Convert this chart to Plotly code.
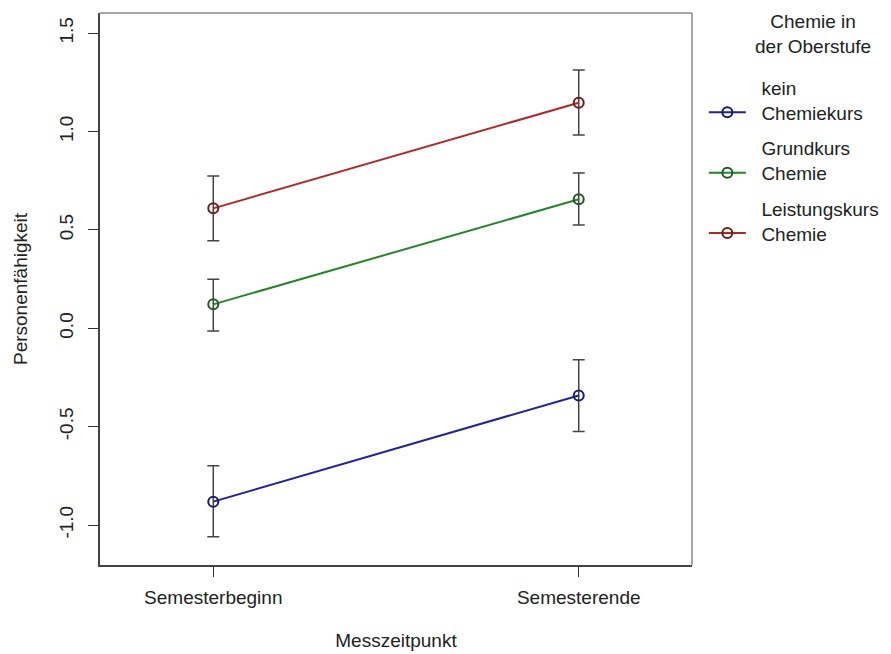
import plotly.graph_objects as go

time_labels = ["Semesterbeginn", "Semesterende"]
x_pos = [1, 2]

groups = ["kein<br>Chemiekurs", "Grundkurs<br>Chemie", "Leistungskurs<br>Chemie"]
means = {
    "kein<br>Chemiekurs": [-0.881, -0.341],
    "Grundkurs<br>Chemie": [0.122, 0.656],
    "Leistungskurs<br>Chemie": [0.610, 1.147],
}
upper = {
    "kein<br>Chemiekurs": [-0.699, -0.160],
    "Grundkurs<br>Chemie": [0.249, 0.790],
    "Leistungskurs<br>Chemie": [0.774, 1.313],
}
lower = {
    "kein<br>Chemiekurs": [-1.059, -0.524],
    "Grundkurs<br>Chemie": [-0.014, 0.525],
    "Leistungskurs<br>Chemie": [0.445, 0.983],
}
line_colors = ["#22229a", "#23862a", "#b02828"]
marker_colors = ["#1a1a66", "#1e5a22", "#6e1c1c"]

y_ticks = [-1.0, -0.5, 0.0, 0.5, 1.0, 1.5]
y_ticktext = ["-1.0", "-0.5", "0.0", "0.5", "1.0", "1.5"]

legend_title = "Chemie in<br>der Oberstufe"

FONT = "Liberation Sans, Arial, sans-serif"
FS = 19
NB = "\u00a0\u00a0"
fig = go.Figure()

for i, g in enumerate(groups):
    m = means[g]
    ep = [u - v for u, v in zip(upper[g], m)]
    em = [v - l for v, l in zip(m, lower[g])]
    label = "<br>".join(NB + part for part in g.split("<br>"))
    fig.add_trace(go.Scatter(
        x=x_pos, y=m, mode="lines+markers", name=label,
        line=dict(color=line_colors[i], width=2),
        marker=dict(symbol="circle-open", size=10, color=marker_colors[i],
                    line=dict(width=2, color=marker_colors[i])),
        error_y=dict(type="data", symmetric=False, array=ep, arrayminus=em,
                     color="#444444", thickness=1.5, width=6),
        legendgroup=g,
    ))

fig.add_annotation(
    text=legend_title, xref="paper", yref="paper", x=1.205, y=1.0, yshift=4,
    xanchor="center", yanchor="top", showarrow=False, align="center",
    font=dict(size=FS, family=FONT, color="#222222"),
)

# top and right frame lines (lighter, like the reference box)
fig.add_shape(type="line", xref="paper", yref="paper", x0=0, x1=1, y0=1, y1=1,
              line=dict(color="#8a8a8a", width=1.5))
fig.add_shape(type="line", xref="paper", yref="paper", x0=1, x1=1, y0=0, y1=1,
              line=dict(color="#8a8a8a", width=1.5))

fig.update_layout(
    width=883, height=646,
    margin=dict(l=92, r=199, t=5, b=89),
    paper_bgcolor="white", plot_bgcolor="white",
    font=dict(family=FONT, size=FS, color="#222222"),
    showlegend=True,
    legend=dict(
        x=1.02, y=0.899, xanchor="left", yanchor="top",
        font=dict(size=FS), valign="bottom", tracegroupgap=8,
        itemwidth=37,
    ),
    xaxis=dict(
        range=[0.69, 2.31], tickvals=x_pos, ticktext=time_labels,
        showgrid=False, zeroline=False, ticks="outside", ticklen=10, tickcolor="#333",
        tickfont=dict(size=FS), ticklabelstandoff=4,
        showline=True, linecolor="#444", linewidth=1.5, mirror=False,
        title=dict(text="Messzeitpunkt", standoff=27, font=dict(size=FS)),
        automargin=False,
    ),
    yaxis=dict(
        range=[-1.203, 1.603], tickvals=y_ticks, ticktext=y_ticktext, tickangle=-90,
        showgrid=False, zeroline=False, ticks="outside", ticklen=10, tickcolor="#333",
        tickfont=dict(size=FS), ticklabelstandoff=8,
        showline=True, linecolor="#444", linewidth=1.5, mirror=False,
        title=dict(text="Personenfähigkeit", standoff=23, font=dict(size=FS)),
        automargin=False,
    ),
)

fig.write_html("out.html")
